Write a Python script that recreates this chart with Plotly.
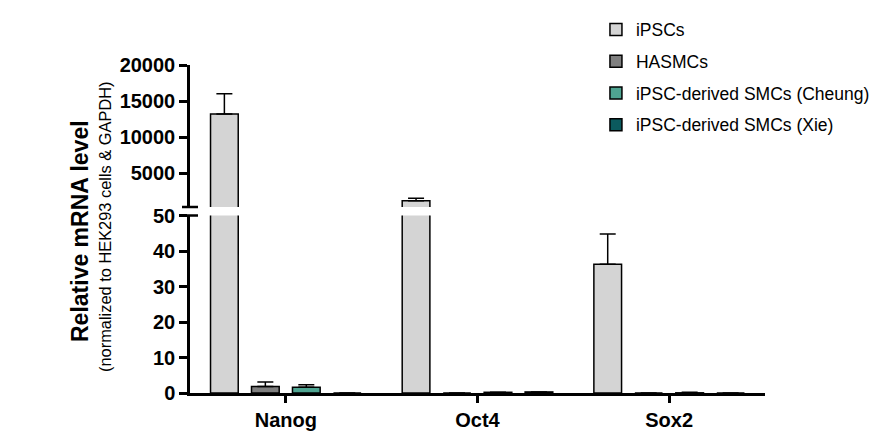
import plotly.graph_objects as go

categories = ["Nanog", "Oct4", "Sox2"]
series_names = ["iPSCs", "HASMCs", "iPSC-derived SMCs (Cheung)", "iPSC-derived SMCs (Xie)"]
series_colors = ["#d4d4d4", "#7f7f7f", "#4fa592", "#0b5a5e"]

ipsc_vals = [13200, 1150, 36.3]
ipsc_err = [2800, 330, 8.5]
hasmc_vals = [1.8, 0.0, 0.0]
hasmc_err = [1.3, None, None]
cheung_vals = [1.6, 0.2, 0.05]
cheung_err = [0.7, None, 0.15]
xie_vals = [0.0, 0.3, 0.0]
xie_err = [None, None, None]

values = [ipsc_vals, hasmc_vals, cheung_vals, xie_vals]
errors = [ipsc_err, hasmc_err, cheung_err, xie_err]

y_ticks_low = [0, 10, 20, 30, 40, 50]
y_ticks_high = [5000, 10000, 15000, 20000]

FONT = "Liberation Sans, Arial, sans-serif"

fig = go.Figure()
for yax, show in (("y", True), ("y2", False)):
    for name, col, v, e in zip(series_names, series_colors, values, errors):
        minus = [None if x is None else 0 for x in e]
        fig.add_trace(go.Bar(
            x=categories, y=v, name=name, yaxis=yax, xaxis="x",
            marker=dict(color=col, line=dict(color="black", width=1.5)),
            error_y=dict(type="data", symmetric=False, array=e,
                         arrayminus=minus, color="black",
                         thickness=1.5, width=8),
            showlegend=show, legendgroup=name, offsetgroup=name,
        ))

axis_common = dict(showline=True, linecolor="black", linewidth=2.5,
                   ticks="outside", tickcolor="black", tickwidth=2.5,
                   showgrid=False, zeroline=False,
                   tickfont=dict(family=FONT, size=20, color="black", weight="bold"))

low_top = 177.5 / 328
high_bot = 186 / 328

fig.update_layout(
    width=893, height=443,
    margin=dict(l=190, r=128, t=65, b=50),
    paper_bgcolor="white", plot_bgcolor="white",
    barmode="group", bargap=0.145, bargroupgap=0.324,
    xaxis=dict(type="category", range=[-0.5, 2.5], ticklen=7, anchor="y",
               **axis_common),
    yaxis=dict(domain=[0, low_top], range=[0, 50], tickvals=y_ticks_low,
               tickformat="d", ticklen=8, anchor="x", **axis_common),
    yaxis2=dict(domain=[high_bot, 1], range=[280, 20000], tickvals=y_ticks_high,
                tickformat="d", ticklen=8, anchor="x", **axis_common),
    legend=dict(x=0.706, xanchor="left", y=1.163, yanchor="top",
                font=dict(family=FONT, size=17.5, color="black"),
                traceorder="grouped", tracegroupgap=6,
                bgcolor="rgba(0,0,0,0)"),
    showlegend=True,
)

# axis break marks
for yref, yv in (("y domain", 1), ("y2 domain", 0)):
    fig.add_shape(type="line", xref="x domain", x0=-8 / 575, x1=8 / 575,
                  yref=yref, y0=yv, y1=yv, line=dict(color="black", width=2.5))

# y-axis titles
fig.add_annotation(text="<b>Relative mRNA level</b>", textangle=-90,
                   xref="paper", yref="paper", x=(80 - 190) / 575, y=(393 - 231) / 328,
                   xanchor="center", yanchor="middle", showarrow=False,
                   font=dict(family=FONT, size=23, color="black"))
fig.add_annotation(text="(normalized to HEK293 cells & GAPDH)", textangle=-90,
                   xref="paper", yref="paper", x=(105 - 190) / 575, y=(393 - 227) / 328,
                   xanchor="center", yanchor="middle", showarrow=False,
                   font=dict(family=FONT, size=16.4, color="black"))

fig.write_html("out.html")
